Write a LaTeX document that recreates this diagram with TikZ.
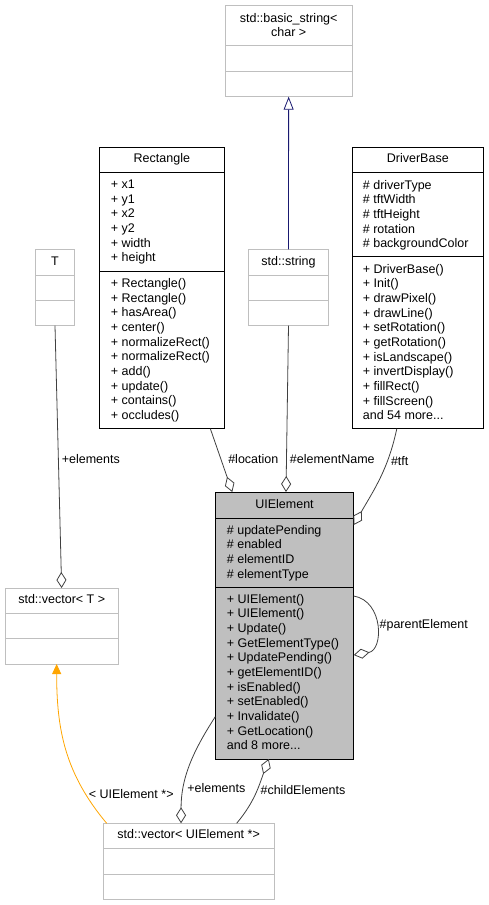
\documentclass[tikz,border=0pt]{standalone}
\usepackage{fontspec}
\setmainfont{Liberation Sans}
\usetikzlibrary{arrows.meta}
\definecolor{boxgray}{RGB}{191,191,191}
\definecolor{edgegray}{RGB}{64,64,64}
\definecolor{inhnavy}{RGB}{25,25,112}
\definecolor{tmplorange}{RGB}{255,165,0}
\tikzset{
  klass/.style={draw,line width=0.9pt,anchor=north west,inner sep=0pt,outer sep=0pt},
  members/.style={anchor=north west,inner sep=0pt,align=left},
  agg/.style={draw=edgegray,line width=0.8pt,-{Diamond[open,length=16pt,width=10pt]}},
  lbl/.style={text=black,inner sep=3pt}
}
\begin{document}
\begin{tikzpicture}[x=1pt,y=-1pt,font=\fontsize{12.5}{14.67}\selectfont]
\useasboundingbox (0,0) rectangle (489,905);
% class boxes
\path (225.3,5.7) node[klass,draw=boxgray,minimum width=126.7pt,minimum height=91pt] (bstr) {};
\draw[boxgray,line width=0.9pt] ([yshift=-40pt]bstr.north west) -- ([yshift=-40pt]bstr.north east);
\draw[boxgray,line width=0.9pt] ([yshift=-65.3pt]bstr.north west) -- ([yshift=-65.3pt]bstr.north east);
\path (288.65,12.8) node[anchor=north,inner sep=0pt,align=center] (bstrtitle) {std::basic\_string<\\char >};

\path (99,147) node[klass,minimum width=125.7pt,minimum height=281.7pt] (rect) {};
\draw[line width=0.9pt] ([yshift=-25.7pt]rect.north west) -- ([yshift=-25.7pt]rect.north east);
\draw[line width=0.9pt] ([yshift=-124pt]rect.north west) -- ([yshift=-124pt]rect.north east);
\path (161.85,162.8) node[anchor=base,inner sep=0pt] (recttitle) {Rectangle};
\path (110.7,179.8) node[members] (rectattr) {+ x1\\+ y1\\+ x2\\+ y2\\+ width\\+ height};
\path (110.7,278.2) node[members] (rectops) {+ Rectangle()\\+ Rectangle()\\+ hasArea()\\+ center()\\+ normalizeRect()\\+ normalizeRect()\\+ add()\\+ update()\\+ contains()\\+ occludes()};

\path (35.7,249.3) node[klass,draw=boxgray,minimum width=38.6pt,minimum height=76.4pt] (tmpl) {};
\draw[boxgray,line width=0.9pt] ([yshift=-26pt]tmpl.north west) -- ([yshift=-26pt]tmpl.north east);
\draw[boxgray,line width=0.9pt] ([yshift=-51.4pt]tmpl.north west) -- ([yshift=-51.4pt]tmpl.north east);
\path (55,265.5) node[anchor=base,inner sep=0pt] (tmpltitle) {T};

\path (248.3,249.3) node[klass,draw=boxgray,minimum width=80.4pt,minimum height=76.4pt] (str) {};
\draw[boxgray,line width=0.9pt] ([yshift=-26pt]str.north west) -- ([yshift=-26pt]str.north east);
\draw[boxgray,line width=0.9pt] ([yshift=-51.4pt]str.north west) -- ([yshift=-51.4pt]str.north east);
\path (288.5,265.5) node[anchor=base,inner sep=0pt] (strtitle) {std::string};

\path (352.3,147) node[klass,minimum width=131pt,minimum height=281.7pt] (drv) {};
\draw[line width=0.9pt] ([yshift=-25.7pt]drv.north west) -- ([yshift=-25.7pt]drv.north east);
\draw[line width=0.9pt] ([yshift=-109.7pt]drv.north west) -- ([yshift=-109.7pt]drv.north east);
\path (417.8,162.8) node[anchor=base,inner sep=0pt] (drvtitle) {DriverBase};
\path (362.7,179.8) node[members] (drvattr) {\# driverType\\\# tftWidth\\\# tftHeight\\\# rotation\\\# backgroundColor};
\path (362.7,263.8) node[members] (drvops) {+ DriverBase()\\+ Init()\\+ drawPixel()\\+ drawLine()\\+ setRotation()\\+ getRotation()\\+ isLandscape()\\+ invertDisplay()\\+ fillRect()\\+ fillScreen()\\and 54 more...};

\path (215.3,492) node[klass,fill=boxgray,minimum width=138.4pt,minimum height=267pt] (uiel) {};
\draw[line width=0.9pt] ([yshift=-26pt]uiel.north west) -- ([yshift=-26pt]uiel.north east);
\draw[line width=0.9pt] ([yshift=-95pt]uiel.north west) -- ([yshift=-95pt]uiel.north east);
\path (284.5,508.8) node[anchor=base,inner sep=0pt] (uieltitle) {UIElement};
\path (226.7,524.8) node[members] (uielattr) {\# updatePending\\\# enabled\\\# elementID\\\# elementType};
\path (226.7,593.8) node[members] (uielops) {+ UIElement()\\+ UIElement()\\+ Update()\\+ GetElementType()\\+ UpdatePending()\\+ getElementID()\\+ isEnabled()\\+ setEnabled()\\+ Invalidate()\\+ GetLocation()\\and 8 more...};

\path (5,588) node[klass,draw=boxgray,minimum width=113.3pt,minimum height=76pt] (vecT) {};
\draw[boxgray,line width=0.9pt] ([yshift=-25.3pt]vecT.north west) -- ([yshift=-25.3pt]vecT.north east);
\draw[boxgray,line width=0.9pt] ([yshift=-50.7pt]vecT.north west) -- ([yshift=-50.7pt]vecT.north east);
\path (61.7,603.8) node[anchor=base,inner sep=0pt] (vecTtitle) {std::vector< T >};

\path (103.3,823.3) node[klass,draw=boxgray,minimum width=170.7pt,minimum height=75.7pt] (vecUI) {};
\draw[boxgray,line width=0.9pt] ([yshift=-25pt]vecUI.north west) -- ([yshift=-25pt]vecUI.north east);
\draw[boxgray,line width=0.9pt] ([yshift=-50.7pt]vecUI.north west) -- ([yshift=-50.7pt]vecUI.north east);
\path (188.65,838.8) node[anchor=base,inner sep=0pt] (vecUItitle) {std::vector< UIElement *>};

% relations
\draw[inhnavy,line width=0.8pt,-{Triangle[open,length=13pt,width=10pt]}] (str.north) -- (bstr.south);
\draw[agg] (tmpl.south) -- node[lbl,pos=0.51,right]{+elements} (vecT.north);
\draw[agg] ([xshift=48.5pt]rect.south) -- node[lbl,pos=0.48,right,xshift=4pt]{\#location} ([xshift=-52.2pt]uiel.north);
\draw[agg] (str.south) -- node[lbl,pos=0.8,right]{\#elementName} ([xshift=1.5pt]uiel.north);
\draw[agg] ([xshift=-21pt]drv.south) to[out=-102,in=60] node[lbl,pos=0.3,right]{\#tft} ([yshift=-33pt]uiel.north east);
\draw[agg] ([yshift=29.5pt]uiel.east) .. controls +(30,5) and +(30,-5) .. node[lbl,pos=0.5,right]{\#parentElement} ([yshift=-29.5pt]uiel.east);
\draw[tmplorange,line width=0.8pt,-{Triangle[length=10pt,width=9pt]}] ([xshift=3.4pt]vecUI.north west) to[out=130,in=-90] node[lbl,pos=0.2,right,text=black]{< UIElement *>} ([xshift=-5pt]vecT.south);
\draw[agg] ([yshift=-91.2pt]uiel.west) to[out=-123,in=90] node[lbl,pos=0.7,right]{+elements} ([xshift=-7.6pt]vecUI.north);
\draw[agg] ([xshift=48pt]vecUI.north) to[out=50,in=-110] node[lbl,pos=0.55,right]{\#childElements} ([xshift=-15.8pt]uiel.south);
\end{tikzpicture}
\end{document}
